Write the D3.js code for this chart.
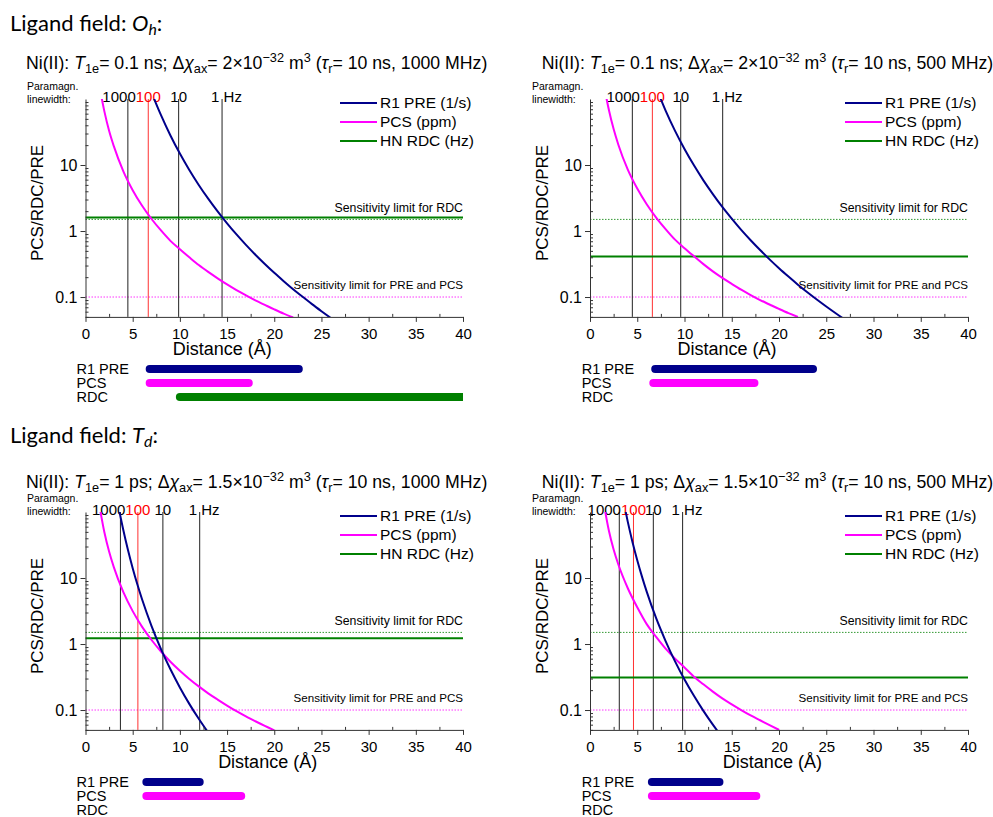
<!DOCTYPE html>
<html><head><meta charset="utf-8">
<script src="https://cdn.jsdelivr.net/npm/d3@7"></script>
<style>
body{margin:0;background:#fff}
svg{display:block}
text{font-family:"Liberation Sans",Arial,sans-serif;fill:#000}
</style>
</head><body>
<svg id="c" width="993" height="817"></svg>
<script>
// ---------------- DATA ----------------
const distanceTicks = [0, 5, 10, 15, 20, 25, 30, 35, 40];
const minorDistanceTicks = [2.5, 7.5, 12.5, 17.5, 22.5, 27.5, 32.5, 37.5];
const yTicks = [0.1, 1, 10];
const legendNames = ["R1 PRE (1/s)", "PCS (ppm)", "HN RDC (Hz)"];
const barNames = ["R1 PRE", "PCS", "RDC"];
const linewidthLabels = ["1000", "100", "10", "1 Hz"];
const ligandFields = [["O", "h"], ["T", "d"]];
const t1eValues = ["0.1 ns", "0.1 ns", "1 ps", "1 ps"];
const dchiValues = ["2", "2", "1.5", "1.5"];
const fieldValues = ["1000 MHz", "500 MHz", "1000 MHz", "500 MHz"];

// R1 PRE curves (distance Å, value 1/s)
const r1_Oh_1000 = [[7,126.6],[7.5,83.7],[8,56.8],[9,28.0],[10,14.9],[11,8.41],[12,4.99],[13,3.09],[14,1.98],[15,1.31],[16,0.888],[17,0.617],[18,0.438],[19,0.317],[20,0.233],[21,0.174],[22,0.131],[23,0.101],[24,0.078],[25,0.061],[26,0.048]];
const r1_Oh_500 = [[7,148.7],[7.5,98.3],[8,66.8],[9,32.9],[10,17.5],[11,9.88],[12,5.86],[13,3.63],[14,2.32],[15,1.54],[16,1.04],[17,0.725],[18,0.515],[19,0.372],[20,0.273],[21,0.204],[22,0.154],[23,0.118],[24,0.0916],[25,0.0717],[26,0.0567],[27,0.0452]];
const r1_Td_1000 = [[3.4,142],[3.5,119.7],[4,53.7],[4.5,26.5],[5,14.1],[5.5,7.96],[6,4.72],[7,1.87],[8,0.839],[9,0.414],[10,0.22],[11,0.124],[12,0.0737],[13,0.0456]];
const r1_Td_500 = [[3.6,133],[4,70.8],[4.5,34.9],[5,18.6],[5.5,10.5],[6,6.22],[7,2.46],[8,1.11],[9,0.546],[10,0.29],[11,0.164],[12,0.0971],[13,0.0601],[14,0.0385]];

// PCS curves (distance Å, value ppm)
const pcs_Oh_1000 = [[1.5,150],[2,65],[2.5,33],[3,19.3],[4,8.1],[5,4.16],[6,2.41],[7,1.52],[8,1.02],[9,0.71],[10,0.53],[11,0.40],[12,0.305],[13,0.24],[14,0.192],[15,0.155],[16,0.127],[17,0.106],[18,0.089],[19,0.076],[20,0.065],[21,0.056],[22,0.049]];
const pcs_Oh_500 = [[1.5,155],[2,68],[2.5,35],[3,20.3],[4,8.5],[5,4.4],[6,2.55],[7,1.6],[8,1.07],[9,0.74],[10,0.55],[11,0.415],[12,0.315],[13,0.245],[14,0.195],[15,0.158],[16,0.129],[17,0.107],[18,0.09],[19,0.077],[20,0.066],[21,0.057],[22,0.05]];
const pcs_Td_1000 = [[1.4,144],[2,49.3],[2.5,25.2],[3,14.6],[4,6.16],[5,3.15],[6,1.82],[7,1.15],[8,0.77],[9,0.54],[10,0.394],[11,0.296],[12,0.228],[13,0.179],[14,0.144],[15,0.117],[16,0.096],[17,0.080],[18,0.0676],[19,0.0575],[20,0.0493]];
const pcs_Td_500 = [[1.4,150],[2,52],[2.5,27],[3,16],[4,7.0],[5,3.6],[6,2.0],[7,1.28],[8,0.85],[9,0.6],[10,0.44],[11,0.32],[12,0.245],[13,0.19],[14,0.15],[15,0.122],[16,0.1],[17,0.083],[18,0.07],[19,0.059],[20,0.05]];

const r1Series = [r1_Oh_1000, r1_Oh_500, r1_Td_1000, r1_Td_500];
const pcsSeries = [pcs_Oh_1000, pcs_Oh_500, pcs_Td_1000, pcs_Td_500];
const rdcLevels = [1.6, 0.41, 1.22, 0.31];
const rdcSensitivity = 1.5;
const prePcsSensitivity = 0.1;
const linewidthDistances = [[4.49, 6.65, 9.87, 14.47], [4.48, 6.6, 9.6, 14.04], [3.7, 5.55, 8.2, 12.1], [3.1, 4.6, 6.7, 9.8]];
const r1PreRanges = [[6.8, 22.6], [6.9, 23.6], [6.45, 12.1], [6.55, 13.7]];
const pcsRanges = [[6.8, 17.3], [6.7, 17.4], [6.45, 16.5], [6.55, 17.6]];
const rdcRanges = [[10, 40], null, null, null];

// ---------------- STYLE / LAYOUT ----------------
const colors = {r1: "#00008B", pcs: "#FF00FF", rdc: "#008000", lw: "#222", lwRed: "#FF3030", axis: "#333"};
const cols = [
  {x0: 85.5, x1: 463, titleX: 26, paraX: 27, legX: 340, barLabelX: 76.5, yLabelX: 37.5},
  {x0: 590, x1: 968, titleX: 541.7, paraX: 532, legX: 845, barLabelX: 581.7, yLabelX: 542.5}
];
const rows = [
  {yT: 99, yB: 316.9, titleY: 63.3, paraY: 86, headerY: 23.3, xLabelAt: 14.5},
  {yT: 512, yB: 729.9, titleY: 481.7, paraY: 498, headerY: 435, xLabelAt: 19.3}
];

const svg = d3.select("#c");

function rich(sel, parts) {
  let cur = 0;
  parts.forEach(([t, k]) => {
    const ts = sel.append("tspan").text(t);
    let target = 0;
    if (k === "sub" || k === "isub") target = 4;
    if (k === "sup") target = -7;
    if (target !== cur) { ts.attr("dy", target - cur); cur = target; }
    if (k === "i" || k === "isub") ts.attr("font-style", "italic");
    if (k === "sub" || k === "sup" || k === "isub") ts.attr("font-size", "0.72em");
  });
}

// Headers
rows.forEach((r, ri) => {
  const t = svg.append("text").attr("x", 10).attr("y", r.headerY).attr("dy", "0.35em")
    .style("font-family", "Lato, 'Open Sans', sans-serif").attr("font-size", 22);
  rich(t, [["Ligand field: ", "n"], [ligandFields[ri][0], "i"], [ligandFields[ri][1], "isub"], [":", "n"]]);
});

const defs = svg.append("defs");

for (let p = 0; p < 4; p++) {
  const c = cols[p % 2], r = rows[Math.floor(p / 2)];
  const x = d3.scaleLinear().domain([0, 40]).range([c.x0, c.x1]);
  const y = d3.scaleLog().domain([0.05, 100]).range([r.yB, r.yT]);
  const g = svg.append("g");

  // title
  const tt = g.append("text").attr("x", c.titleX).attr("y", r.titleY).attr("dy", "0.35em").attr("font-size", 17.7);
  rich(tt, [["Ni(II): ", "n"], ["T", "i"], ["1e", "sub"], ["= " + t1eValues[p] + "; Δ", "n"], ["χ", "i"], ["ax", "sub"],
    ["= " + dchiValues[p] + "×10", "n"], ["−32", "sup"], [" m", "n"], ["3", "sup"], [" (", "n"], ["τ", "i"], ["r", "sub"],
    ["= 10 ns, " + fieldValues[p] + ")", "n"]]);

  // Paramagn. linewidth
  g.append("text").attr("x", c.paraX).attr("y", r.paraY).attr("dy", "0.35em").attr("font-size", 10.5).text("Paramagn.");
  g.append("text").attr("x", c.paraX).attr("y", r.paraY + 13).attr("dy", "0.35em").attr("font-size", 10.5).text("linewidth:");

  // clip
  const cid = "clip" + p;
  defs.append("clipPath").attr("id", cid).append("rect")
    .attr("x", c.x0).attr("y", r.yT).attr("width", c.x1 - c.x0).attr("height", r.yB - r.yT);

  // sensitivity dotted lines
  g.append("line").attr("x1", x(0)).attr("x2", x(40)).attr("y1", y(prePcsSensitivity)).attr("y2", y(prePcsSensitivity))
    .attr("stroke", colors.pcs).attr("stroke-width", 1).attr("stroke-dasharray", "1.5,1.5").attr("opacity", 0.8);
  g.append("line").attr("x1", x(0)).attr("x2", x(40)).attr("y1", y(rdcSensitivity)).attr("y2", y(rdcSensitivity))
    .attr("stroke", colors.rdc).attr("stroke-width", 1).attr("stroke-dasharray", "1.5,1.5").attr("opacity", 0.8);
  g.append("text").attr("x", x(40)).attr("y", y(rdcSensitivity) - 12).attr("dy", "0.35em").attr("text-anchor", "end")
    .attr("font-size", 12.3).text("Sensitivity limit for RDC");
  g.append("text").attr("x", x(40)).attr("y", y(prePcsSensitivity) - 12).attr("dy", "0.35em").attr("text-anchor", "end")
    .attr("font-size", 11.6).text("Sensitivity limit for PRE and PCS");

  // linewidth vertical lines
  linewidthDistances[p].forEach((d, i) => {
    g.append("line").attr("x1", x(d)).attr("x2", x(d)).attr("y1", r.yB).attr("y2", r.yT)
      .attr("stroke", i === 1 ? colors.lwRed : colors.lw).attr("stroke-width", 1);
  });
  const lwY = r.yT - 2;
  const red = g.append("text").attr("x", x(linewidthDistances[p][1])).attr("y", lwY).attr("dy", "0.35em")
    .attr("text-anchor", "middle").attr("font-size", 15).style("fill", "#FF0000").text(linewidthLabels[1]);
  const rb = red.node().getBBox();
  g.append("text").attr("x", rb.x).attr("y", lwY).attr("dy", "0.35em").attr("text-anchor", "end")
    .attr("font-size", 15).text(linewidthLabels[0]);
  g.append("text").attr("x", x(linewidthDistances[p][2])).attr("y", lwY).attr("dy", "0.35em").attr("text-anchor", "middle")
    .attr("font-size", 15).text(linewidthLabels[2]);
  g.append("text").attr("x", x(linewidthDistances[p][3]) - 11).attr("y", lwY).attr("dy", "0.35em")
    .attr("font-size", 15).text(linewidthLabels[3]);

  // RDC level
  g.append("line").attr("x1", x(0)).attr("x2", x(40)).attr("y1", y(rdcLevels[p])).attr("y2", y(rdcLevels[p]))
    .attr("stroke", colors.rdc).attr("stroke-width", 2);

  // curves
  const line = d3.line().x(d => x(d[0])).y(d => y(d[1])).curve(d3.curveMonotoneX);
  const cg = g.append("g").attr("clip-path", `url(#${cid})`);
  cg.append("path").datum(pcsSeries[p]).attr("d", line).attr("fill", "none").attr("stroke", colors.pcs).attr("stroke-width", 2);
  cg.append("path").datum(r1Series[p]).attr("d", line).attr("fill", "none").attr("stroke", colors.r1).attr("stroke-width", 2);

  // axes
  const xa = g.append("g").attr("transform", `translate(0,${r.yB})`)
    .call(d3.axisBottom(x).tickValues(distanceTicks).tickSize(5).tickSizeOuter(0).tickPadding(6));
  g.append("g").attr("transform", `translate(0,${r.yB})`)
    .call(d3.axisBottom(x).tickValues(minorDistanceTicks).tickSize(-3).tickFormat(""))
    .call(s => s.select(".domain").remove());
  const ya = g.append("g").attr("transform", `translate(${c.x0},0)`)
    .call(d3.axisLeft(y).tickValues(yTicks).tickFormat(d => String(d)).tickSize(5).tickSizeOuter(0).tickPadding(3));
  const minorY = [];
  [0.01, 0.1, 1, 10].forEach(dec => { for (let k = 2; k <= 9; k++) { const v = k * dec; if (v >= 0.05 && v <= 100) minorY.push(v); } });
  g.append("g").attr("transform", `translate(${c.x0},0)`)
    .call(d3.axisLeft(y).tickValues(minorY).tickSize(-3).tickFormat(""))
    .call(s => s.select(".domain").remove());
  g.selectAll(".domain, .tick line").attr("stroke", colors.axis);
  xa.selectAll("text").attr("font-size", 15).style("font-family", "'Liberation Sans',Arial,sans-serif").attr("fill", "#000");
  ya.selectAll("text").attr("font-size", 16).style("font-family", "'Liberation Sans',Arial,sans-serif").attr("fill", "#000");

  // axis labels
  g.append("text").attr("x", x(r.xLabelAt)).attr("y", r.yB + 31.4).attr("dy", "0.35em").attr("text-anchor", "middle")
    .attr("font-size", 18).text("Distance (Å)");
  g.append("text").attr("transform", `translate(${c.yLabelX},${(r.yT + r.yB) / 2 - 5}) rotate(-90)`).attr("dy", "0.35em")
    .attr("text-anchor", "middle").attr("font-size", 17).text("PCS/RDC/PRE");

  // legend
  const legColors = [colors.r1, colors.pcs, colors.rdc];
  legendNames.forEach((n, i) => {
    const ly = r.yT + 4 + i * 19;
    g.append("line").attr("x1", c.legX).attr("x2", c.legX + 37).attr("y1", ly).attr("y2", ly)
      .attr("stroke", legColors[i]).attr("stroke-width", 2);
    g.append("text").attr("x", c.legX + 40).attr("y", ly).attr("dy", "0.35em").attr("font-size", 15.5).text(n);
  });

  // range bars
  const ranges = [r1PreRanges[p], pcsRanges[p], rdcRanges[p]];
  const bcid = "bclip" + p;
  defs.append("clipPath").attr("id", bcid).append("rect")
    .attr("x", 0).attr("y", r.yB).attr("width", x(40)).attr("height", 120);
  barNames.forEach((n, i) => {
    const by = r.yB + 52 + i * 14;
    g.append("text").attr("x", c.barLabelX).attr("y", by).attr("dy", "0.35em").attr("font-size", 14.5).text(n);
    const rg = ranges[i];
    if (rg) {
      g.append("line").attr("clip-path", `url(#${bcid})`).attr("x1", x(rg[0])).attr("x2", x(rg[1]))
        .attr("y1", by).attr("y2", by).attr("stroke", legColors[i]).attr("stroke-width", 8).attr("stroke-linecap", "round");
    }
  });
}
</script>
</body></html>
